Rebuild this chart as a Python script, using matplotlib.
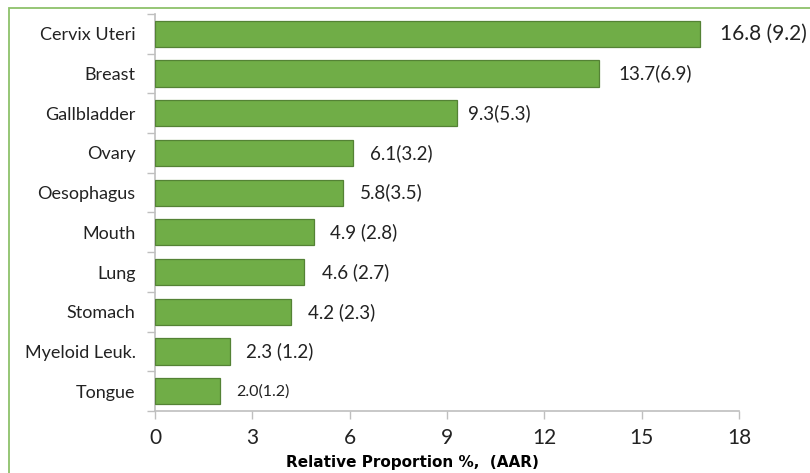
import matplotlib
matplotlib.use("Agg")
import matplotlib.pyplot as plt
from matplotlib.patches import Rectangle

sites = ["Cervix Uteri", "Breast", "Gallbladder", "Ovary", "Oesophagus",
         "Mouth", "Lung", "Stomach", "Myeloid Leuk.", "Tongue"]
proportion = [16.8, 13.7, 9.3, 6.1, 5.8, 4.9, 4.6, 4.2, 2.3, 2.0]
value_text = ["16.8 (9.2)", "13.7(6.9)", "9.3(5.3)", "6.1(3.2)", "5.8(3.5)",
              "4.9 (2.8)", "4.6 (2.7)", "4.2 (2.3)", "2.3 (1.2)", "2.0(1.2)"]
xticks = [0, 3, 6, 9, 12, 15, 18]

# label styling (offset in points, font size) - the source chart is uneven
label_pad = [14, 14, 8, 12, 12, 11.5, 13, 12, 12, 11.5]
label_size = [15, 13.5, 13.5, 13.5, 13.5, 13.5, 13.5, 13.5, 13.5, 11.5]

plt.rcParams["font.family"] = ["Lato", "DejaVu Sans"]

fig = plt.figure(figsize=(8.1, 4.73), dpi=100)
ax = fig.add_axes([155/810, 1 - 411/473, (739 - 155)/810, (411 - 14)/473])

# green frame round the chart area
fig.patches.append(Rectangle((9/810, -0.1), 1.0, 1 - 8/473 + 0.1,
                             transform=fig.transFigure, fill=False,
                             edgecolor="#8DC26A", linewidth=1.3))

pos = list(range(len(sites)))
ax.barh(pos, proportion, height=0.66, color="#70AD47", edgecolor="#548235",
        linewidth=0.9, zorder=3)

for p, v, t, pad, fs in zip(pos, proportion, value_text, label_pad, label_size):
  ax.annotate(t, (v, p), xytext=(pad, 0), textcoords="offset points",
              va="center", ha="left", fontsize=fs, color="#222222")

ax.set_ylim(len(sites) - 0.5, -0.5)
ax.set_yticks(pos)
ax.set_yticklabels(sites, fontsize=13, color="#222222")
ax.set_yticks([p - 0.5 for p in pos] + [len(sites) - 0.5], minor=True)
ax.tick_params(axis="y", which="major", length=0, pad=14)
ax.tick_params(axis="y", which="minor", length=6, color="#BFBFBF", width=1)

ax.set_xlim(0, 18)
ax.set_xticks(xticks)
ax.set_xticklabels([str(x) for x in xticks], fontsize=15, color="#222222")
ax.tick_params(axis="x", length=6, color="#BFBFBF", width=1, pad=6)
ax.set_xlabel("Relative Proportion %,  (AAR)", fontsize=11, fontweight="bold",
              family="DejaVu Sans", labelpad=3)
ax.xaxis.set_label_coords((412 - 155)/584, -0.11)

for s in ["top", "right"]:
  ax.spines[s].set_visible(False)
for s in ["left", "bottom"]:
  ax.spines[s].set_color("#BFBFBF")
  ax.spines[s].set_linewidth(1.2)

fig.savefig("out.png", dpi=100)
